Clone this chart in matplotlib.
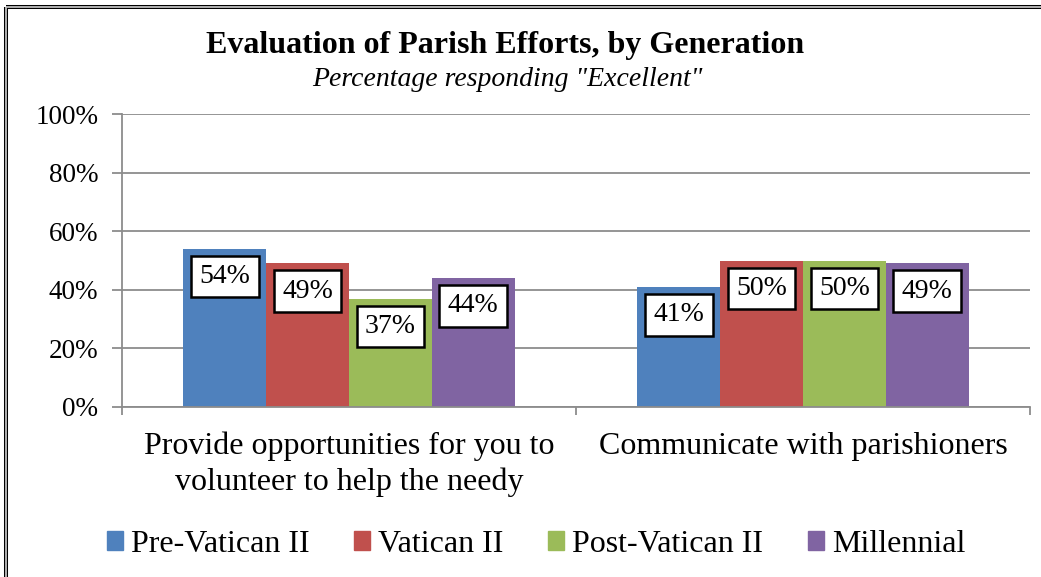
import matplotlib.pyplot as plt
from matplotlib.lines import Line2D
from matplotlib.patches import Patch
import numpy as np

categories = ['Provide opportunities for you to\nvolunteer to help the needy',
              'Communicate with parishioners']
series = ['Pre-Vatican II', 'Vatican II', 'Post-Vatican II', 'Millennial']
pre_vatican = [54, 41]
vatican = [49, 50]
post_vatican = [37, 50]
millennial = [44, 49]
yticks = [0, 20, 40, 60, 80, 100]

colors = ['#4F81BD', '#C0504D', '#9BBB59', '#8064A2']
plt.rcParams['font.family'] = ['Liberation Serif', 'DejaVu Serif']

fig = plt.figure(figsize=(10.41, 5.77), dpi=100)
ax = fig.add_axes([122/1041, 1-407/577, (1030-122)/1041, (407-114)/577])

grid = '#8C8C8C'
vals = [pre_vatican, vatican, post_vatican, millennial]
x = np.arange(len(categories))
w = 0.1823
for i, v in enumerate(vals):
    pos = x + (i - 1.5) * w
    ax.bar(pos, v, w, color=colors[i], zorder=2, label=series[i])
    for p, val in zip(pos, v):
        ax.text(p, val - 9.5, f'{val}%', ha='center', va='center', fontsize=20,
                zorder=3, bbox=dict(boxstyle='square,pad=0.3', fc='white',
                                    ec='black', lw=1.8))

ax.set_xlim(-0.5, 1.5)
ax.set_ylim(0, 100)
ax.set_yticks(yticks)
ax.set_yticklabels([f'{t}%' for t in yticks], fontsize=19.5)
ax.yaxis.grid(True, color=grid, lw=1.3, zorder=0)
ax.set_xticks([-0.5, 0.5, 1.5])
ax.set_xticklabels([])
ax.tick_params(axis='x', length=6, color=grid, width=1.3)
ax.tick_params(axis='y', length=7, color=grid, width=1.3, pad=10)
for s in ['top', 'right']:
    ax.spines[s].set_visible(False)
for s in ['left', 'bottom']:
    ax.spines[s].set_color(grid)
    ax.spines[s].set_linewidth(1.3)
for xi, c in zip(x, categories):
    ax.text(xi, -8.5, c, ha='center', va='top', fontsize=23, linespacing=1.27)

fig.text(505/1041, 1-45/577, 'Evaluation of Parish Efforts, by Generation',
         ha='center', va='center', fontsize=23, fontweight='bold')
fig.text(507/1041, 1-80/577, 'Percentage responding "Excellent"',
         ha='center', va='center', fontsize=20, style='italic')

handles = [Patch(color=c) for c in colors]
fig.legend(handles, series, loc='center', bbox_to_anchor=(536/1041, 1-544/577),
           ncol=4, frameon=False, fontsize=23, handlelength=0.5,
           handleheight=0.55, handletextpad=0.25, columnspacing=1.4)

# outer frame (top and left)
for lw, col in [(2.9, 'black'), (1.3, '#BFBFBF')]:
    fig.add_artist(Line2D([6/1041, 1], [1-7/577, 1-7/577], lw=lw, color=col,
                          transform=fig.transFigure, solid_capstyle='butt'))
    fig.add_artist(Line2D([6/1041, 6/1041], [0, 1-7/577], lw=lw, color=col,
                          transform=fig.transFigure, solid_capstyle='butt'))

fig.savefig('out.png', dpi=100)
